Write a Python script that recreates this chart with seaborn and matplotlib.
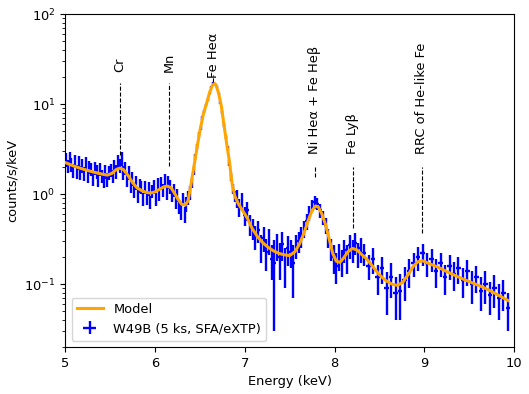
import numpy as np
import pandas as pd
import seaborn as sns
import matplotlib
matplotlib.use("Agg")
import matplotlib.pyplot as plt

# observed spectrum (bin centres in keV, counts/s/keV, 1-sigma errors)
energy_low = np.round(np.arange(5.01, 6.90, 0.02), 3)
energy_mid = np.round(np.arange(6.91, 8.30, 0.03), 3)
energy_high = np.round(np.arange(8.33, 9.95, 0.05), 3)

counts = [
    2.45, 2.05, 2.55, 2.15, 1.85, 2.35, 1.80, 2.25, 1.75, 2.10,
    1.70, 2.20, 1.60, 2.00, 1.90, 1.50, 1.95, 1.80, 1.45, 1.90,
    1.60, 1.40, 1.80, 1.45, 1.75, 1.85, 1.60, 2.05, 1.80, 2.35,
    2.10, 2.50, 1.75, 1.95, 1.45, 1.75, 1.25, 1.50, 1.10, 1.35,
    0.95, 1.25, 1.20, 0.88, 1.20, 0.92, 1.15, 0.82, 1.08, 1.22,
    0.88, 1.28, 1.00, 1.32, 1.12, 1.42, 1.05, 1.38, 1.22, 0.98,
    1.12, 0.82, 0.98, 0.74, 0.64, 0.88, 0.60, 0.78, 0.92, 1.05,
    1.35, 1.85, 2.60, 3.40, 4.60, 5.50, 7.00, 8.30, 9.80, 11.2,
    13.4, 15.5, 17.3, 16.8, 15.6, 13.0, 10.5, 8.00, 5.90, 4.30,
    3.20, 2.25, 1.55, 1.15, 0.95,
    0.90, 0.72, 0.84, 0.58, 0.66, 0.46, 0.42, 0.34, 0.40, 0.26,
    0.33, 0.23, 0.31, 0.19, 0.17, 0.27, 0.20, 0.28, 0.17, 0.25,
    0.23, 0.17, 0.27, 0.30, 0.34, 0.42, 0.50, 0.62, 0.75, 0.82,
    0.78, 0.66, 0.55, 0.45, 0.33, 0.25, 0.20, 0.16, 0.21, 0.18,
    0.24, 0.20, 0.27, 0.24, 0.29, 0.22, 0.25,
    0.22, 0.16, 0.19, 0.12, 0.15, 0.09, 0.12, 0.08, 0.085, 0.11,
    0.14, 0.17, 0.20, 0.22, 0.17, 0.19, 0.14, 0.17, 0.12, 0.16,
    0.13, 0.15, 0.11, 0.14, 0.10, 0.12, 0.085, 0.10, 0.075, 0.09,
    0.07, 0.08, 0.055,
]

errors = [
    0.42, 0.35, 0.43, 0.37, 0.32, 0.40, 0.31, 0.38, 0.30, 0.36,
    0.29, 0.37, 0.27, 0.34, 0.32, 0.26, 0.33, 0.31, 0.25, 0.32,
    0.27, 0.24, 0.31, 0.25, 0.30, 0.31, 0.27, 0.35, 0.31, 0.40,
    0.36, 0.42, 0.30, 0.33, 0.25, 0.30, 0.21, 0.26, 0.19, 0.23,
    0.16, 0.21, 0.20, 0.15, 0.20, 0.16, 0.20, 0.14, 0.18, 0.21,
    0.15, 0.22, 0.17, 0.22, 0.19, 0.24, 0.18, 0.23, 0.21, 0.17,
    0.19, 0.14, 0.17, 0.13, 0.12, 0.15, 0.12, 0.14, 0.16, 0.18,
    0.18, 0.20, 0.22, 0.24, 0.26, 0.28, 0.30, 0.32, 0.35, 0.37,
    0.40, 0.42, 0.44, 0.44, 0.42, 0.39, 0.35, 0.31, 0.27, 0.23,
    0.20, 0.17, 0.15, 0.14, 0.14,
    0.20, 0.16, 0.18, 0.14, 0.15, 0.12, 0.11, 0.10, 0.11, 0.09,
    0.10, 0.09, 0.10, 0.08, 0.14, 0.09, 0.09, 0.10, 0.08, 0.09,
    0.08, 0.10, 0.08, 0.08, 0.09, 0.09, 0.10, 0.11, 0.12, 0.13,
    0.12, 0.11, 0.10, 0.09, 0.08, 0.07, 0.07, 0.06, 0.07, 0.06,
    0.07, 0.07, 0.08, 0.07, 0.08, 0.07, 0.08,
    0.06, 0.05, 0.06, 0.045, 0.05, 0.045, 0.05, 0.04, 0.045, 0.045,
    0.05, 0.05, 0.06, 0.06, 0.05, 0.055, 0.05, 0.05, 0.045, 0.05,
    0.045, 0.05, 0.04, 0.045, 0.04, 0.04, 0.035, 0.04, 0.03, 0.035,
    0.03, 0.03, 0.025,
]

# best-fit model curve
model_energy = [
    5.00, 5.10, 5.20, 5.30, 5.40, 5.47, 5.52, 5.57, 5.61, 5.65,
    5.70, 5.75, 5.80, 5.85, 5.90, 5.95, 6.00, 6.05, 6.10, 6.14,
    6.18, 6.22, 6.26, 6.30, 6.34, 6.37, 6.40, 6.43, 6.46, 6.50,
    6.54, 6.58, 6.61, 6.64, 6.66, 6.68, 6.71, 6.74, 6.77, 6.80,
    6.83, 6.86, 6.89, 6.93, 6.98, 7.03, 7.08, 7.14, 7.20, 7.26,
    7.32, 7.38, 7.44, 7.50, 7.56, 7.61, 7.66, 7.71, 7.75, 7.79,
    7.82, 7.86, 7.90, 7.94, 7.98, 8.02, 8.06, 8.10, 8.15, 8.20,
    8.25, 8.30, 8.36, 8.43, 8.50, 8.57, 8.64, 8.70, 8.76, 8.82,
    8.88, 8.93, 8.98, 9.05, 9.15, 9.25, 9.35, 9.45, 9.55, 9.65,
    9.75, 9.85, 9.93,
]
model_flux = [
    2.25, 2.05, 1.90, 1.78, 1.68, 1.63, 1.70, 1.88, 1.95, 1.88,
    1.62, 1.35, 1.18, 1.10, 1.05, 1.03, 1.06, 1.13, 1.21, 1.23,
    1.18, 1.02, 0.87, 0.77, 0.76, 0.85, 1.25, 1.90, 2.90, 5.00,
    7.80, 10.6, 13.6, 16.2, 17.0, 16.4, 13.2, 9.50, 5.80, 3.60,
    2.30, 1.30, 0.95, 0.78, 0.65, 0.54, 0.42, 0.34, 0.29, 0.257,
    0.235, 0.22, 0.212, 0.208, 0.23, 0.28, 0.37, 0.52, 0.66, 0.74,
    0.72, 0.60, 0.46, 0.32, 0.22, 0.18, 0.175, 0.195, 0.23, 0.25,
    0.24, 0.215, 0.19, 0.155, 0.127, 0.11, 0.10, 0.097, 0.105, 0.128,
    0.16, 0.178, 0.182, 0.17, 0.155, 0.138, 0.124, 0.112, 0.102, 0.093,
    0.083, 0.073, 0.066,
]

# line identifications
line_names = ["Cr", "Mn", "Fe Heα", "Ni Heα + Fe Heβ", "Fe Lyβ",
              "RRC of He-like Fe"]
line_energy = [5.61, 6.16, 6.65, 7.78, 8.20, 8.97]
line_bottom = [2.7, 2.05, 17.5, 1.55, 0.42, 0.37]
line_top = [17.1, 17.1, 21.0, 2.0, 2.0, 2.0]
label_y = [23.0, 23.0, 19.5, 2.8, 2.8, 2.8]

plt.rcParams["font.size"] = 9.4

energy = np.concatenate([energy_low, energy_mid, energy_high])
half_width = ([0.01] * len(energy_low) + [0.015] * len(energy_mid)
              + [0.025] * len(energy_high))
model = pd.DataFrame({"energy": model_energy, "flux": model_flux})

fig, ax = plt.subplots(figsize=(5.29, 3.94), dpi=100)
fig.subplots_adjust(left=0.123, right=0.972, top=0.964, bottom=0.119)

sns.lineplot(data=model, x="energy", y="flux", color="orange", lw=2.2,
             label="Model", ax=ax, zorder=3)
ax.errorbar(energy, counts, yerr=errors, xerr=half_width, fmt="none",
            ecolor="blue", elinewidth=1.7, capsize=0, zorder=2,
            label="W49B (5 ks, SFA/eXTP)")

for name, e, lo, hi, ty in zip(line_names, line_energy, line_bottom,
                               line_top, label_y):
    ax.vlines(e, lo, hi, colors="black", linestyles="--", lw=0.8, zorder=4)
    ax.text(e, ty, name, rotation=90, ha="center", va="bottom")

ax.set_yscale("log")
ax.set_xlim(5, 10)
ax.set_ylim(0.02, 100)
ax.set_xlabel("Energy (keV)")
ax.set_ylabel("counts/s/keV")
ax.legend(loc="lower left")
fig.savefig("out.png", dpi=100)
